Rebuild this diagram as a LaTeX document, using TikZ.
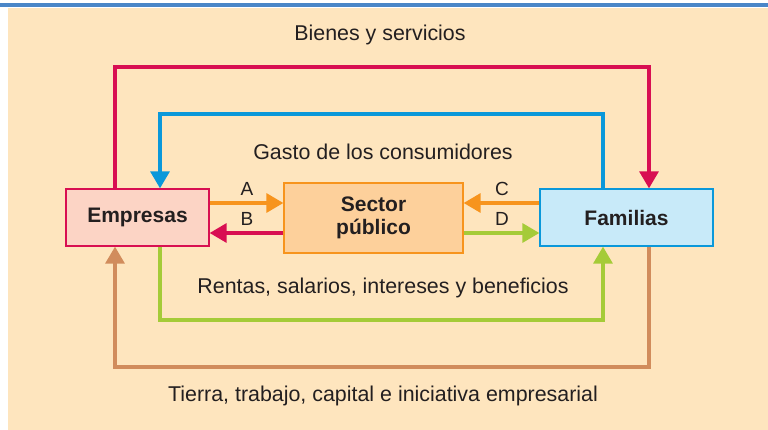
\documentclass[tikz,border=0pt]{standalone}
\usepackage{fontspec}
\setmainfont{Liberation Sans}
\usetikzlibrary{arrows.meta}
\definecolor{bgbeige}{HTML}{FEE5BE}
\definecolor{topblue}{HTML}{4A86C8}
\definecolor{cred}{HTML}{D80F52}
\definecolor{cblue}{HTML}{0A98DA}
\definecolor{cgreen}{HTML}{A5CB38}
\definecolor{cbrown}{HTML}{D18C5C}
\definecolor{corange}{HTML}{F7941D}
\definecolor{empfill}{HTML}{FCD4C5}
\definecolor{famfill}{HTML}{C8EAF9}
\definecolor{secfill}{HTML}{FDD09B}
\definecolor{txt}{HTML}{231F20}
\tikzset{
  boxnode/.style={draw, line width=1.3pt, font=\fontsize{21}{23}\selectfont\bfseries, text=txt, align=center, inner sep=0pt},
  flow/.style={line width=3.3pt, -{Triangle[length=17pt,width=19pt]}},
  lbl/.style={font=\fontsize{21.4}{25}\selectfont, text=txt, inner sep=0pt},
  letter/.style={font=\fontsize{19}{22}\selectfont, text=txt, inner sep=0pt}
}
\begin{document}
\begin{tikzpicture}[x=1pt,y=-1pt]
\useasboundingbox (0,0) rectangle (768,430);
\fill[white] (0,0) rectangle (768,430);
\fill[topblue] (0,3) rectangle (768,7.5);
\fill[bgbeige] (8,8) rectangle (768,430);

\node[boxnode, fill=empfill, draw=cred, minimum width=143pt, minimum height=57pt] (emp) at (137.5,217.5) {Empresas};
\node[boxnode, fill=famfill, draw=cblue, minimum width=173pt, minimum height=57pt] (fam) at (626.5,217.5) {Familias};
\node[boxnode, fill=secfill, draw=corange, minimum width=179pt, minimum height=70pt] (sec) at (373.5,218) {Sector\\público};

\coordinate (r1) at (115,67);
\coordinate (r2) at (649,67);
\coordinate (b1) at (160,114);
\coordinate (b2) at (603,114);
\coordinate (g1) at (160,320);
\coordinate (g2) at (603,320);
\coordinate (w1) at (115,367);
\coordinate (w2) at (649,367);

\draw[flow, cred] (r1 |- emp.north) -- (r1) -- (r2) -- (r2 |- fam.north);
\draw[flow, cblue] (b2 |- fam.north) -- (b2) -- (b1) -- (b1 |- emp.north);
\draw[flow, cgreen] (g1 |- emp.south) -- (g1) -- (g2) -- (g2 |- fam.south);
\draw[flow, cbrown] (w2 |- fam.south) -- (w2) -- (w1) -- (w1 |- emp.south);

\coordinate (ya) at (0,203);
\coordinate (yb) at (0,233);
\draw[flow, corange] (emp.east |- ya) -- (sec.west |- ya);
\draw[flow, cred] (sec.west |- yb) -- (emp.east |- yb);
\draw[flow, corange] (fam.west |- ya) -- (sec.east |- ya);
\draw[flow, cgreen] (sec.east |- yb) -- (fam.west |- yb);

\node[letter] (la) at (247,189) {A};
\node[letter] (lb) at (247,219) {B};
\node[letter] (lc) at (502,189) {C};
\node[letter] (ld) at (502,219) {D};

\node[lbl] (t1) at (380,35) {Bienes y servicios};
\node[lbl] (t2) at (383,152) {Gasto de los consumidores};
\node[lbl] (t3) at (383,288) {Rentas, salarios, intereses y beneficios};
\node[lbl] (t4) at (383,396) {Tierra, trabajo, capital e iniciativa empresarial};
\end{tikzpicture}
\end{document}
